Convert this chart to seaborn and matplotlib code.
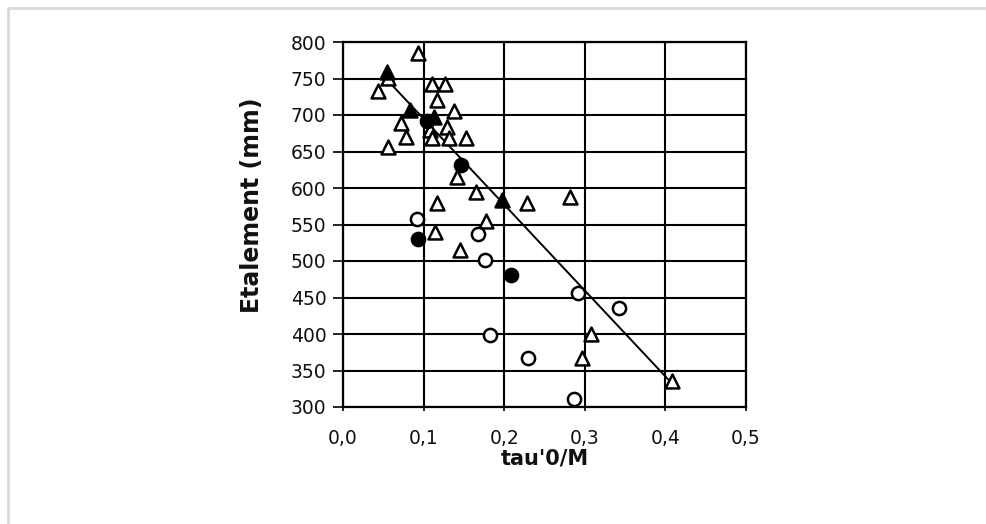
import matplotlib
matplotlib.use("Agg")
import matplotlib.pyplot as plt
import seaborn as sns
import pandas as pd

# Open triangles
tri_open_x = [0.093, 0.056, 0.043, 0.110, 0.127, 0.117, 0.138, 0.072, 0.129, 0.108,
              0.078, 0.110, 0.132, 0.153, 0.056, 0.142, 0.165, 0.228, 0.117, 0.177,
              0.114, 0.145, 0.282, 0.308, 0.296, 0.408]
tri_open_y = [785, 751, 733, 743, 743, 720, 705, 689, 684, 680,
              670, 669, 669, 669, 656, 615, 594, 579, 579, 555,
              540, 515, 588, 400, 367, 335]

# Filled triangles
tri_fill_x = [0.054, 0.083, 0.113, 0.197]
tri_fill_y = [759, 707, 697, 584]

# Open circles
circ_open_x = [0.092, 0.167, 0.176, 0.182, 0.230, 0.292, 0.342, 0.287]
circ_open_y = [557, 537, 501, 399, 367, 456, 435, 311]

# Filled circles
circ_fill_x = [0.104, 0.146, 0.093, 0.208]
circ_fill_y = [692, 632, 530, 481]

# Fitted trend line end points
line_x = [0.054, 0.405]
line_y = [749, 336]

x_ticks = [0.0, 0.1, 0.2, 0.3, 0.4, 0.5]
x_tick_labels = ["0,0", "0,1", "0,2", "0,3", "0,4", "0,5"]
y_ticks = [300, 350, 400, 450, 500, 550, 600, 650, 700, 750, 800]

sns.set_theme(style="white")
plt.rcParams["font.family"] = ["DejaVu Sans"]

fig = plt.figure(figsize=(9.86, 5.24), dpi=100)
fig.patch.set_facecolor("white")

# light frame along the top and left edges
fig.add_artist(plt.Line2D([7.5 / 986, 985 / 986], [1 - 7.5 / 524, 1 - 7.5 / 524],
                          color="#d9d9d9", lw=2, transform=fig.transFigure))
fig.add_artist(plt.Line2D([7.5 / 986, 7.5 / 986], [1 - 7.5 / 524, 0],
                          color="#d9d9d9", lw=2, transform=fig.transFigure))

ax = fig.add_axes([343 / 986, 1 - 407 / 524, 403 / 986, 365 / 524])

groups = [
    (tri_open_x, tri_open_y, "^", "white", 100),
    (circ_open_x, circ_open_y, "o", "white", 90),
    (circ_fill_x, circ_fill_y, "o", "black", 90),
    (tri_fill_x, tri_fill_y, "^", "black", 100),
]

ax.set_xlim(0, 0.5)
ax.set_ylim(300, 800)
ax.set_xticks(x_ticks)
ax.set_xticklabels(x_tick_labels)
ax.set_yticks(y_ticks)
ax.grid(True, color="black", lw=1.5)
ax.set_axisbelow(True)

sns.lineplot(x=line_x, y=line_y, ax=ax, color="black", lw=1.4, zorder=3)

for xs, ys, mk, fc, s in groups:
    df = pd.DataFrame({"x": xs, "y": ys})
    sns.scatterplot(data=df, x="x", y="y", ax=ax, marker=mk, s=s,
                    facecolor=fc, edgecolor="black", linewidth=1.8, zorder=4)

for sp in ax.spines.values():
    sp.set_color("black")
    sp.set_linewidth(1.6)

ax.tick_params(axis="y", direction="out", length=7, width=1.2, color="black",
               labelsize=13.5, pad=5, left=True, labelcolor="#111111")
ax.tick_params(axis="x", direction="out", length=3, width=1.2, color="black",
               labelsize=13.5, pad=13, bottom=True, labelcolor="#111111")

ax.set_xlabel("tau'0/M", fontsize=15, fontweight="bold", color="#111111", labelpad=0)
ax.set_ylabel("Etalement (mm)", fontsize=17, fontweight="bold", color="#111111")
ax.yaxis.set_label_coords(-0.196, 0.553)

fig.savefig("out.png", dpi=100, facecolor="white")
